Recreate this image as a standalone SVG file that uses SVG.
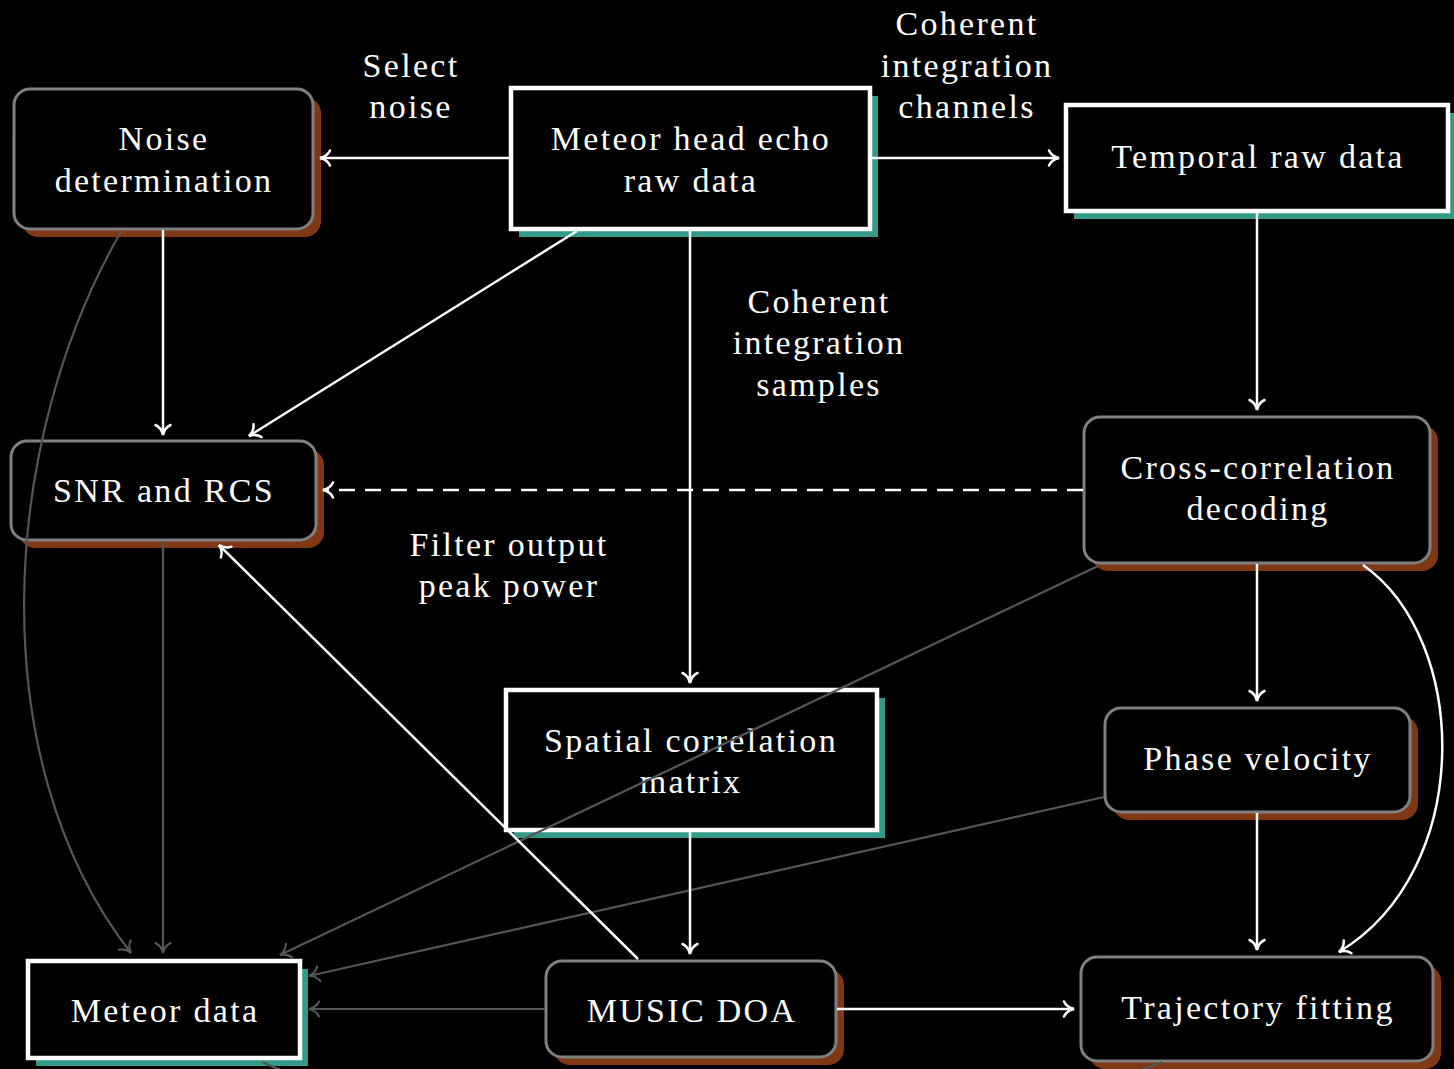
<svg xmlns="http://www.w3.org/2000/svg" width="1454" height="1069" viewBox="0 0 1454 1069">
  <defs>
    <style>
      .bg { fill: #000000; }
      .txt { font-family: "Liberation Serif", "DejaVu Serif", serif; font-size: 34px; fill: #ffffff; text-anchor: middle; letter-spacing: 2.3px; }
      .proc { fill: #000000; stroke: #808080; stroke-width: 3; }
      .data { fill: #000000; stroke: #ffffff; stroke-width: 4.5; }
      .sh-brown { fill: #803814; }
      .sh-teal { fill: #339988; }
      .e { fill: none; stroke: #ffffff; stroke-width: 2.5; }
      .e-dash { stroke-dasharray: 16 10; }
      .g { fill: none; stroke: #555555; stroke-width: 2.2; }
    </style>
    <marker id="arrW" markerUnits="userSpaceOnUse" markerWidth="24" markerHeight="24" viewBox="-14 -12 24 24" refX="0" refY="0" orient="auto">
      <path d="M-10,-7.5 C-8,-3 -3,-0.7 0,0 C-3,0.7 -8,3 -10,7.5" fill="none" stroke="#ffffff" stroke-width="2.5" stroke-linecap="round"/>
    </marker>
    <marker id="arrG" markerUnits="userSpaceOnUse" markerWidth="24" markerHeight="24" viewBox="-14 -12 24 24" refX="0" refY="0" orient="auto">
      <path d="M-10,-7.5 C-8,-3 -3,-0.7 0,0 C-3,0.7 -8,3 -10,7.5" fill="none" stroke="#555555" stroke-width="2.2" stroke-linecap="round"/>
    </marker>
  </defs>

  <rect class="bg" x="0" y="0" width="1454" height="1069"/>

  <!-- nodes -->
  <g id="noise-determination">
    <rect class="sh-brown" x="22" y="97" width="299" height="140" rx="16"/>
    <rect class="proc" x="14" y="89" width="299" height="140" rx="16"/>
    <text class="txt"><tspan x="164" y="150">Noise</tspan><tspan x="164" y="192">determination</tspan></text>
  </g>

  <g id="meteor-head-echo">
    <rect class="sh-teal" x="519" y="96" width="359" height="141"/>
    <rect class="data" x="511" y="88" width="359" height="141"/>
    <text class="txt"><tspan x="691" y="150">Meteor head echo</tspan><tspan x="691" y="192">raw data</tspan></text>
  </g>

  <g id="temporal-raw-data">
    <rect class="sh-teal" x="1074" y="113" width="382" height="106"/>
    <rect class="data" x="1066" y="105" width="382" height="106"/>
    <text class="txt" x="1258" y="168">Temporal raw data</text>
  </g>

  <g id="snr-rcs">
    <rect class="sh-brown" x="19" y="449" width="305" height="99" rx="16"/>
    <rect class="proc" x="11" y="441" width="305" height="99" rx="16"/>
    <text class="txt" x="164" y="502">SNR and RCS</text>
  </g>

  <g id="cross-correlation">
    <rect class="sh-brown" x="1092" y="425" width="346" height="146" rx="16"/>
    <rect class="proc" x="1084" y="417" width="346" height="146" rx="16"/>
    <text class="txt"><tspan x="1258" y="479">Cross-correlation</tspan><tspan x="1258" y="520">decoding</tspan></text>
  </g>

  <g id="spatial-correlation">
    <rect class="sh-teal" x="514" y="698" width="371" height="140"/>
    <rect class="data" x="506" y="690" width="371" height="140"/>
    <text class="txt"><tspan x="691" y="752">Spatial correlation</tspan><tspan x="691" y="793">matrix</tspan></text>
  </g>

  <g id="phase-velocity">
    <rect class="sh-brown" x="1113" y="716" width="305" height="104" rx="16"/>
    <rect class="proc" x="1105" y="708" width="305" height="104" rx="16"/>
    <text class="txt" x="1258" y="770">Phase velocity</text>
  </g>

  <g id="meteor-data">
    <rect class="sh-teal" x="36" y="969" width="272" height="97"/>
    <rect class="data" x="28" y="961" width="272" height="97"/>
    <text class="txt" x="165" y="1022">Meteor data</text>
  </g>

  <g id="music-doa">
    <rect class="sh-brown" x="554" y="969" width="290" height="96" rx="16"/>
    <rect class="proc" x="546" y="961" width="290" height="96" rx="16"/>
    <text class="txt" x="692" y="1022">MUSIC DOA</text>
  </g>

  <g id="trajectory-fitting">
    <rect class="sh-brown" x="1089" y="965" width="352" height="104" rx="16"/>
    <rect class="proc" x="1081" y="957" width="352" height="104" rx="16"/>
    <text class="txt" x="1258" y="1019">Trajectory fitting</text>
  </g>

  <!-- connectors, drawn above the boxes -->
  <g id="connectors">
    <!-- secondary (grey) flows into the meteor data product -->
    <path class="g" d="M122,230 C0,440 -20,760 131,953" marker-end="url(#arrG)"/>
    <path class="g" d="M163,541 L163,953" marker-end="url(#arrG)"/>
    <path class="g" d="M1098,566 L280,955" marker-end="url(#arrG)"/>
    <path class="g" d="M1104,797 L309,976" marker-end="url(#arrG)"/>
    <path class="g" d="M545,1009 L309,1009" marker-end="url(#arrG)"/>
    <path class="g" d="M1162,1062 C1000,1130 400,1130 262,1062"/>

    <!-- primary processing flows -->
    <path class="e" d="M509,158 L320,158" marker-end="url(#arrW)"/>
    <path class="e" d="M872,158 L1059,158" marker-end="url(#arrW)"/>
    <path class="e" d="M163,230 L163,435" marker-end="url(#arrW)"/>
    <path class="e" d="M577,231 L249,436" marker-end="url(#arrW)"/>
    <path class="e" d="M690,231 L690,683" marker-end="url(#arrW)"/>
    <path class="e" d="M1257,213 L1257,410" marker-end="url(#arrW)"/>
    <path class="e e-dash" d="M1083,490 L323,490" marker-end="url(#arrW)"/>
    <path class="e" d="M638,959 L219,545" marker-end="url(#arrW)"/>
    <path class="e" d="M690,832 L690,954" marker-end="url(#arrW)"/>
    <path class="e" d="M1257,564 L1257,701" marker-end="url(#arrW)"/>
    <path class="e" d="M1257,813 L1257,950" marker-end="url(#arrW)"/>
    <path class="e" d="M1363,565 C1470,640 1475,870 1339,952" marker-end="url(#arrW)"/>
    <path class="e" d="M837,1009 L1074,1009" marker-end="url(#arrW)"/>
  </g>

  <!-- edge labels -->
  <g id="edge-labels">
    <text class="txt"><tspan x="411" y="77">Select</tspan><tspan x="411" y="118">noise</tspan></text>
    <text class="txt"><tspan x="967" y="35">Coherent</tspan><tspan x="967" y="77">integration</tspan><tspan x="967" y="118">channels</tspan></text>
    <text class="txt"><tspan x="819" y="313">Coherent</tspan><tspan x="819" y="354">integration</tspan><tspan x="819" y="396">samples</tspan></text>
    <text class="txt"><tspan x="509" y="556">Filter output</tspan><tspan x="509" y="597">peak power</tspan></text>
  </g>
</svg>
